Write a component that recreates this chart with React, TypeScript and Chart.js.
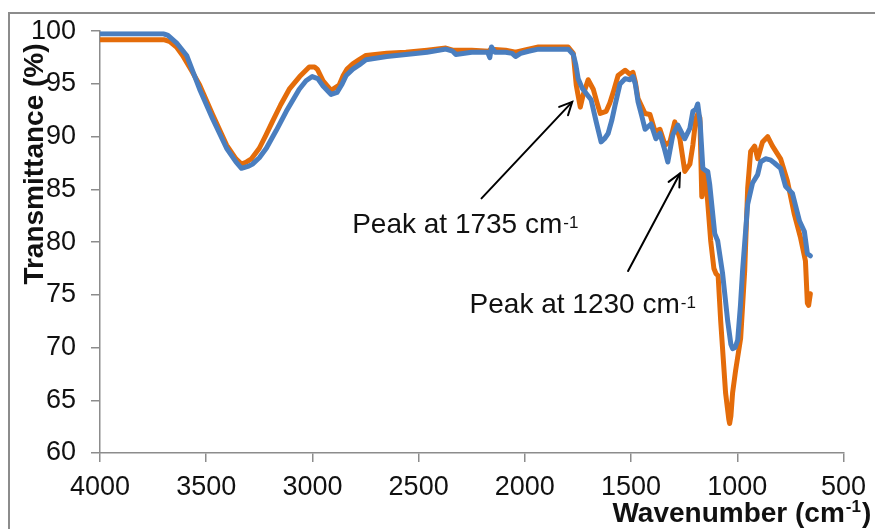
import React, { useEffect, useRef } from "react";
import { Chart, registerables } from "chart.js";

Chart.register(...registerables);

// Sample A (orange) – wavenumber (cm-1) and transmittance (%)
const orangeWn = [
  4000, 3700, 3670, 3640, 3611, 3570, 3531, 3470, 3404, 3360, 3334, 3310, 3287, 3250, 3220, 3189, 3150, 3109,
  3060, 3015, 2990, 2977, 2950, 2912, 2874, 2855, 2837, 2810, 2780, 2748, 2650, 2560, 2460, 2372, 2340, 2250,
  2170, 2160, 2091, 2044, 1983, 1936, 1796, 1772, 1758, 1750, 1739, 1725, 1702, 1678, 1660, 1645, 1617, 1600,
  1584, 1561, 1528, 1505, 1491, 1480, 1467, 1434, 1411, 1387, 1364, 1340, 1317, 1294, 1270, 1247, 1223, 1209,
  1195, 1185, 1176, 1167, 1155, 1140, 1125, 1110, 1100, 1090, 1078, 1055, 1040, 1036, 1030, 1022, 1008, 984,
  965, 951, 937, 918, 904, 881, 857, 834, 796, 764, 731, 702, 679, 670, 664, 656,
];
const orangeT = [
  99.2, 99.2, 99.0, 98.5, 97.7, 96.3, 94.9, 92.1, 89.2, 87.9, 87.4, 87.6, 87.9, 88.9, 90.1, 91.4, 93.0, 94.5,
  95.7, 96.6, 96.6, 96.4, 95.3, 94.4, 94.9, 95.8, 96.4, 96.9, 97.3, 97.7, 97.9, 98.0, 98.2, 98.4, 98.2, 98.2,
  98.1, 98.3, 98.2, 98.0, 98.3, 98.5, 98.5, 97.9, 94.9, 94.0, 92.8, 94.0, 95.4, 94.5, 93.2, 92.2, 92.4, 93.2,
  94.2, 95.8, 96.3, 95.9, 96.1, 95.2, 93.6, 92.2, 92.1, 90.5, 90.7, 89.2, 89.5, 91.4, 89.8, 86.7, 87.4, 89.2,
  91.7, 92.2, 91.8, 84.3, 86.5, 84.0, 80.1, 77.5, 77.0, 76.8, 72.5, 65.7, 63.2, 62.8, 63.5, 65.7, 67.8, 70.9,
  77.3, 85.1, 88.6, 89.1, 87.9, 89.5, 90.0, 89.1, 87.9, 85.8, 82.6, 80.4, 78.2, 74.2, 74.0, 75.1,
];

// Sample B (blue)
const blueWn = [
  4000, 3700, 3680, 3640, 3592, 3531, 3470, 3404, 3360, 3334, 3300, 3282, 3250, 3217, 3170, 3123, 3062, 3030,
  3001, 2975, 2950, 2912, 2884, 2860, 2841, 2810, 2780, 2748, 2650, 2560, 2460, 2372, 2340, 2325, 2250, 2175,
  2165, 2157, 2140, 2091, 2060, 2044, 2020, 1983, 1936, 1850, 1796, 1772, 1760, 1749, 1730, 1711, 1688, 1664,
  1641, 1625, 1608, 1590, 1575, 1552, 1528, 1505, 1491, 1480, 1467, 1450, 1434, 1406, 1383, 1364, 1345, 1327,
  1303, 1280, 1247, 1223, 1209, 1195, 1186, 1175, 1162, 1150, 1139, 1130, 1106, 1092, 1069, 1045, 1030, 1022,
  1010, 998, 985, 975, 951, 928, 904, 890, 867, 845, 825, 796, 773, 740, 707, 684, 670, 656,
];
const blueT = [
  99.75, 99.75, 99.6, 98.9, 97.7, 94.5, 91.7, 88.9, 87.6, 87.0, 87.2, 87.4, 88.0, 88.9, 90.6, 92.4, 94.5, 95.3,
  95.7, 95.5, 94.8, 94.0, 94.2, 95.0, 95.8, 96.4, 96.8, 97.3, 97.6, 97.8, 98.0, 98.3, 98.1, 97.8, 98.0, 98.0,
  97.5, 98.5, 98.0, 98.0, 97.9, 97.6, 97.9, 98.1, 98.3, 98.3, 98.3, 97.8, 96.8, 95.5, 94.6, 94.1, 93.5, 91.4,
  89.5, 89.8, 90.3, 91.6, 93.0, 95.0, 95.5, 95.4, 95.7, 95.0, 93.3, 92.0, 90.7, 91.2, 89.8, 90.3, 89.0, 87.6,
  90.2, 91.1, 89.8, 90.8, 92.4, 92.6, 93.1, 91.4, 87.0, 86.8, 86.7, 85.5, 80.8, 80.1, 77.0, 72.5, 70.3, 69.9,
  70.0, 70.7, 74.0, 77.3, 83.6, 85.6, 86.4, 87.6, 87.9, 87.8, 87.5, 87.0, 85.3, 84.6, 82.0, 81.0, 78.9, 78.7,
];

// Annotations (data coordinates)
const peakLabels = ["Peak at 1735 cm", "Peak at 1230 cm"];
const peakLabelAt = [
  [2813, 80.85],
  [2260, 73.3],
];
const arrowFrom = [
  [2204, 84.15],
  [1514, 77.26],
];
const arrowTo = [
  [1777, 93.3],
  [1270, 86.5],
];

const FONT = "'Liberation Sans', Arial, sans-serif";

const overlayPlugin = {
  id: "overlay",
  afterDraw(chart: any) {
    const { ctx, scales } = chart;
    const xs = scales.x;
    const ys = scales.y;
    ctx.save();
    // arrows
    ctx.strokeStyle = "#000";
    ctx.lineWidth = 2;
    ctx.lineCap = "round";
    for (let i = 0; i < arrowFrom.length; i++) {
      const x1 = xs.getPixelForValue(arrowFrom[i][0]);
      const y1 = ys.getPixelForValue(arrowFrom[i][1]);
      const x2 = xs.getPixelForValue(arrowTo[i][0]);
      const y2 = ys.getPixelForValue(arrowTo[i][1]);
      ctx.beginPath();
      ctx.moveTo(x1, y1);
      ctx.lineTo(x2, y2);
      ctx.stroke();
      const ang = Math.atan2(y2 - y1, x2 - x1);
      const hl = 14;
      const spread = 0.45;
      ctx.beginPath();
      ctx.moveTo(x2 - hl * Math.cos(ang - spread), y2 - hl * Math.sin(ang - spread));
      ctx.lineTo(x2, y2);
      ctx.lineTo(x2 - hl * Math.cos(ang + spread), y2 - hl * Math.sin(ang + spread));
      ctx.stroke();
    }
    // peak labels
    ctx.fillStyle = "#111";
    ctx.textBaseline = "alphabetic";
    ctx.textAlign = "left";
    for (let i = 0; i < peakLabels.length; i++) {
      const x = xs.getPixelForValue(peakLabelAt[i][0]);
      const y = ys.getPixelForValue(peakLabelAt[i][1]);
      ctx.font = `28px ${FONT}`;
      ctx.fillText(peakLabels[i], x, y);
      const w = ctx.measureText(peakLabels[i]).width;
      ctx.font = `17px ${FONT}`;
      ctx.fillText("-1", x + w + 1, y - 5);
    }
    // axis titles
    const area = chart.chartArea;
    ctx.font = `bold 28px ${FONT}`;
    ctx.fillStyle = "#111";
    // x title
    const xt = "Wavenumber (cm";
    const xtx = area.right - 231;
    const xty = 522;
    ctx.fillText(xt, xtx, xty);
    const w = ctx.measureText(xt).width;
    ctx.font = `bold 17px ${FONT}`;
    ctx.fillText("-1", xtx + w + 1, xty - 10);
    const w2 = ctx.measureText("-1").width;
    ctx.font = `bold 28px ${FONT}`;
    ctx.fillText(")", xtx + w + w2 + 2, xty);
    // y title
    ctx.translate(43, 164);
    ctx.rotate(-Math.PI / 2);
    ctx.textAlign = "center";
    ctx.fillText("Transmittance (%)", 0, 0);
    ctx.restore();
  },
};

export default function App() {
  const canvasRef = useRef<HTMLCanvasElement | null>(null);

  useEffect(() => {
    document.body.style.margin = "0";
    const canvas = canvasRef.current;
    if (!canvas) return;
    const axisColor = "#8c8c8c";
    const tickFont = { family: FONT, size: 27 };
    const plain = (v: any) => String(v);
    const chart = new Chart(canvas, {
      type: "line",
      data: {
        datasets: [
          {
            label: "A",
            data: orangeWn.map((x, i) => ({ x, y: orangeT[i] })),
            borderColor: "#e46c0a",
            borderWidth: 5,
            pointRadius: 0,
            tension: 0,
            fill: false,
            borderJoinStyle: "round",
            borderCapStyle: "round",
            order: 1,
          },
          {
            label: "B",
            data: blueWn.map((x, i) => ({ x, y: blueT[i] })),
            borderColor: "#4a7ebf",
            borderWidth: 5,
            pointRadius: 0,
            tension: 0,
            fill: false,
            borderJoinStyle: "round",
            borderCapStyle: "round",
            order: 0,
          },
        ],
      },
      options: {
        animation: false,
        responsive: false,
        maintainAspectRatio: false,
        layout: { padding: { top: 29, right: 29, left: 0, bottom: 0 } },
        plugins: { legend: { display: false }, tooltip: { enabled: false } },
        scales: {
          x: {
            type: "linear",
            reverse: true,
            min: 500,
            max: 4000,
            ticks: {
              stepSize: 500,
              font: tickFont,
              color: "#111",
              padding: 9,
              maxRotation: 0,
              autoSkip: false,
              callback: plain,
            },
            grid: { drawOnChartArea: false, drawTicks: true, tickLength: 9, color: axisColor, lineWidth: 1.5 },
            border: { color: axisColor, width: 1.5 },
            afterFit: (s: any) => {
              s.height = 76;
            },
          },
          y: {
            min: 60,
            max: 100,
            ticks: { stepSize: 5, font: tickFont, color: "#111", padding: 15, callback: plain },
            grid: { drawOnChartArea: false, drawTicks: true, tickLength: 9, color: axisColor, lineWidth: 1.5 },
            border: { color: axisColor, width: 1.5 },
            afterFit: (s: any) => {
              s.width = 100;
            },
          },
        },
      },
      plugins: [overlayPlugin],
    } as any);
    return () => chart.destroy();
  }, []);

  return (
    <div style={{ position: "fixed", left: 0, top: 0, width: 875, height: 529, background: "#fff", overflow: "hidden" }}>
      <div
        style={{
          position: "absolute",
          left: 8,
          top: 12,
          width: 2000,
          height: 2000,
          borderLeft: "2px solid #8c8c8c",
          borderTop: "2px solid #8c8c8c",
        }}
      />
      <canvas ref={canvasRef} width={875} height={529} style={{ position: "absolute", left: 0, top: 0, width: 875, height: 529 }} />
    </div>
  );
}
